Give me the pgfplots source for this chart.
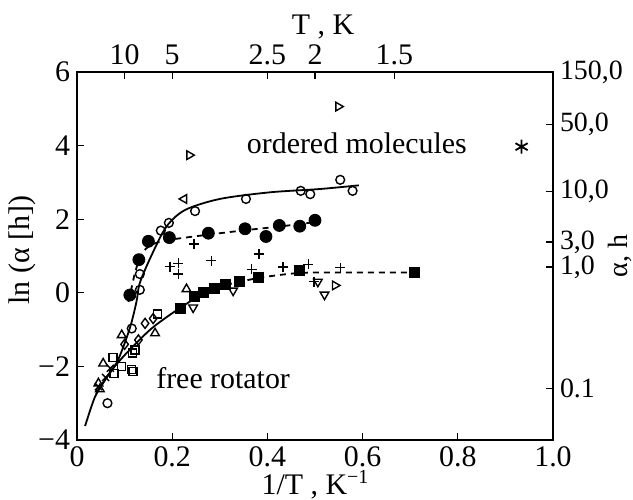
\documentclass[border=0pt]{standalone}
\usepackage{fontspec}
\setmainfont{Liberation Serif}
\usepackage{pgfplots}
\pgfplotsset{compat=1.18}
\begin{document}
\begin{tikzpicture}[font=\fontsize{15}{18}\selectfont]
\path[use as bounding box] (-38.5bp,-30bp) rectangle (278bp,220bp);
\begin{axis}[at={(0,0)}, anchor=south west, scale only axis, width=238bp, height=184bp,
  xmin=0, xmax=1, ymin=-4, ymax=6,
  xtick={0,0.2,0.4,0.6,0.8,1}, xticklabels={0,0.2,0.4,0.6,0.8,1.0},
  xticklabel style={inner sep=0.5bp, yshift=-2.8bp},
  ytick={-4,-2,0,2,4,6}, yticklabels={−4,−2,0,2,4,6},
  xtick pos=bottom, ytick pos=left, tick align=inside, major tick length=3.5bp,
  axis line style={line width=0.6bp}, every tick/.style={line width=0.6bp, black},
  clip=false]
% curves
\addplot[black, line width=0.9bp, smooth] coordinates {(0.017,-3.62) (0.038,-2.82) (0.06,-2.35) (0.086,-1.83) (0.111,-0.96) (0.125,-0.24) (0.132,0.27) (0.157,1.03) (0.188,1.8) (0.227,2.25) (0.3,2.55) (0.405,2.73) (0.51,2.82) (0.592,2.92)};
\addplot[black, line width=0.9bp, dash pattern=on 3bp off 2.5bp, smooth] coordinates {(0.108,-0.25) (0.114,0.1) (0.122,0.55) (0.132,0.95) (0.145,1.2) (0.165,1.35) (0.2,1.45) (0.276,1.58) (0.353,1.7) (0.425,1.8) (0.5,1.92)};
\addplot[black, line width=0.9bp, smooth] coordinates {(0.04,-2.75) (0.07,-2.15) (0.104,-1.64) (0.153,-1.01) (0.195,-0.6) (0.23,-0.3)};
\addplot[black, line width=0.9bp, dash pattern=on 3bp off 2.5bp, smooth] coordinates {(0.23,-0.3) (0.265,-0.02) (0.31,0.2) (0.38,0.4) (0.45,0.52) (0.5,0.55) (0.71,0.55)};
% open circles
\addplot[only marks, mark=o, mark size=2.2bp, mark options={line width=0.7bp, fill=white}] coordinates {(0.064,-3.0) (0.115,-0.97) (0.132,0.08) (0.132,0.51) (0.176,1.69) (0.193,1.90) (0.248,2.22) (0.355,2.55) (0.47,2.77) (0.49,2.68) (0.553,3.07) (0.579,2.77)};
% filled circles
\addplot[only marks, mark=*, mark size=3bp, black] coordinates {(0.111,-0.06) (0.13,0.9) (0.15,1.4) (0.194,1.5) (0.276,1.62) (0.353,1.74) (0.397,1.53) (0.425,1.83) (0.468,1.81) (0.5,1.97)};
% filled squares
\addplot[only marks, mark=square*, mark size=2.5bp, black] coordinates {(0.218,-0.42) (0.246,-0.11) (0.265,0.0) (0.288,0.12) (0.311,0.24) (0.342,0.30) (0.381,0.42) (0.467,0.62) (0.708,0.55)};
% plus
\addplot[only marks, mark=+, mark size=2.5bp, mark options={line width=0.7bp}] coordinates {(0.195,0.71) (0.213,0.80) (0.213,0.51) (0.246,1.33) (0.282,0.87) (0.367,0.64) (0.382,1.05) (0.433,0.70) (0.486,0.77) (0.498,0.30) (0.553,0.68)};
% open triangles up
\addplot[only marks, mark=triangle, mark size=2.5bp, mark options={line width=0.7bp, fill=white}] coordinates {(0.045,-2.46) (0.048,-2.62) (0.055,-1.92) (0.094,-1.15) (0.164,-1.1) (0.23,0.1)};
% open triangles down
\addplot[only marks, mark=triangle, mark size=2.5bp, mark options={line width=0.7bp, fill=white, rotate=180}] coordinates {(0.244,-0.4) (0.328,0.06) (0.506,0.3) (0.52,-0.05)};
% open squares
\addplot[only marks, mark=square, mark size=2bp, mark options={line width=0.7bp, fill=white}] coordinates {(0.076,-1.76) (0.094,-2.0) (0.115,-2.08) (0.117,-1.64) (0.078,-2.19) (0.118,-2.14) (0.169,-0.58) (0.122,-1.55)};
% open diamonds
\addplot[only marks, mark=diamond, mark size=2.5bp, mark options={line width=0.7bp, fill=white}] coordinates {(0.129,-1.28) (0.143,-0.83) (0.16,-0.7) (0.1,-1.4)};
% crosses
\addplot[only marks, mark=x, mark size=2.5bp, mark options={line width=0.7bp}] coordinates {(0.045,-2.55) (0.06,-2.3) (0.07,-2.05)};
% triangles right / left
\addplot[only marks, mark=triangle, mark size=2.5bp, mark options={line width=0.7bp, fill=white, rotate=-90}] coordinates {(0.236,3.74) (0.549,5.06) (0.542,0.2)};
\addplot[only marks, mark=triangle, mark size=2.5bp, mark options={line width=0.7bp, fill=white, rotate=90}] coordinates {(0.225,2.55)};
% asterisk
\addplot[only marks, mark=asterisk, mark size=3.5bp, mark options={line width=0.9bp}] coordinates {(0.934,3.97)};
\node at (axis cs:0.588,4.07) {ordered molecules};
\node at (axis cs:0.307,-2.32) {free rotator};
\node[anchor=base, yshift=-27bp, inner sep=0.5bp] at (axis cs:0.5,-4) {1/T , K\raisebox{0.75ex}{\fontsize{10}{10}\selectfont −1}};
\node[anchor=base, yshift=18.5bp] at (axis cs:0.517,6) {T , K};
\node[rotate=90] at (axis cs:-0.1155,1.16) {ln (α [h])};
\node[rotate=90, font=\fontsize{14}{16}\selectfont] at (axis cs:1.14,1.0) {α, h};
\end{axis}
\begin{axis}[at={(0,0)}, anchor=south west, scale only axis, width=238bp, height=184bp,
  xmin=0, xmax=1, ymin=-4, ymax=6,
  xtick={0.1,0.2,0.4,0.5,0.6667}, xticklabels={10,5,2.5,2,1.5},
  ytick={-2.6,0.7,1.38,2.76,4.57,6}, yticklabels={0.1,{1,0},{3,0},{10,0},{50,0},{150,0}},
  xtick pos=top, ytick pos=right, xticklabel pos=upper, yticklabel pos=right,
  yticklabel style={font=\fontsize{14}{16}\selectfont},
  tick align=inside, major tick length=3.5bp,
  axis line style={line width=0.6bp}, every tick/.style={line width=0.6bp, black}]
\end{axis}
\end{tikzpicture}
\end{document}
